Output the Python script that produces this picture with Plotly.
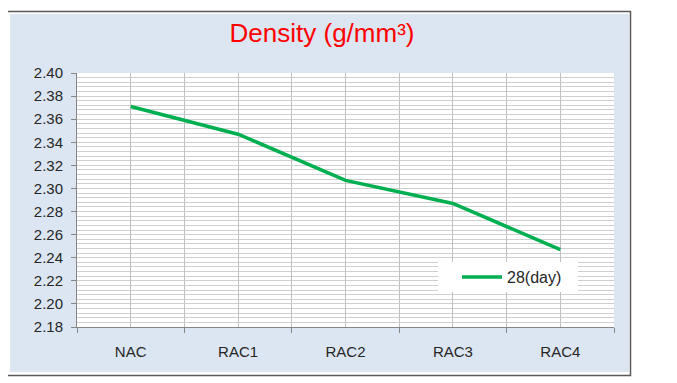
import plotly.graph_objects as go

categories = ["NAC", "RAC1", "RAC2", "RAC3", "RAC4"]
density_28day = [2.371, 2.347, 2.307, 2.287, 2.247]
series_name = "28(day)"
y_ticks = [2.18, 2.20, 2.22, 2.24, 2.26, 2.28, 2.30, 2.32, 2.34, 2.36, 2.38, 2.40]

OFF = 8  # default page body margin
W, H = 677 - OFF, 383 - OFF
# plot area in page pixels (reference coordinates)
L, R, T, B = 77, 614, 73, 327
l, r, t, b = L - OFF, R - OFF, T - OFF, B - OFF

idx = list(range(len(categories)))
bounds = [i - 0.5 for i in range(len(categories) + 1)]

fig = go.Figure()
fig.add_trace(go.Scatter(
    x=idx, y=density_28day, mode="lines", name=series_name,
    line=dict(color="#00b050", width=3.5),
))


def px(pxv):
    return (pxv - L) / (R - L)


def py(pyv):
    return (B - pyv) / (B - T)


font_main = "Liberation Sans"

fig.update_layout(
    width=W, height=H,
    margin=dict(l=l, r=W - r, t=t, b=H - b),
    paper_bgcolor="white",
    plot_bgcolor="white",
    showlegend=True,
    title=dict(
        text="Density (g/mm³)",
        font=dict(family=font_main, size=26, color="#ff0000"),
        x=(322 - OFF) / W, xref="container", xanchor="center",
        y=1 - (33 - OFF) / H, yref="container", yanchor="middle",
    ),
    legend=dict(
        x=px(457), y=py(260), xanchor="left", yanchor="top",
        bgcolor="rgba(0,0,0,0)", borderwidth=0,
        font=dict(family=font_main, size=16, color="#262626"),
        itemwidth=40,
    ),
    xaxis=dict(
        range=[-0.5, len(categories) - 0.5],
        tickmode="array", tickvals=bounds, ticktext=[""] * len(bounds),
        ticks="outside", ticklen=5, tickcolor="#868686", tickwidth=1,
        showline=True, linecolor="#868686", linewidth=1,
        showgrid=True, gridcolor="#c0c0c0", gridwidth=1,
        zeroline=False, fixedrange=True,
    ),
    xaxis2=dict(
        overlaying="x", matches="x", side="bottom",
        tickmode="array", tickvals=idx, ticktext=categories,
        ticks="outside", ticklen=11, tickcolor="rgba(0,0,0,0)",
        showline=False, showgrid=True, gridcolor="#c0c0c0", gridwidth=1,
        tickfont=dict(family=font_main, size=15, color="#262626"),
        zeroline=False,
    ),
    yaxis=dict(
        range=[2.18, 2.40],
        tickmode="array", tickvals=y_ticks, ticktext=[f"{v:.2f}" for v in y_ticks],
        ticks="outside", ticklen=5, tickcolor="#868686",
        showline=True, linecolor="#868686", linewidth=1,
        showgrid=True, gridcolor="#cfcfcf", gridwidth=1,
        minor=dict(dtick=0.004, tick0=2.18, showgrid=True, gridcolor="#cfcfcf", gridwidth=1, ticks=""),
        tickfont=dict(family=font_main, size=15, color="#262626"),
        ticklabelstandoff=5,
        zeroline=False,
    ),
    shapes=[
        dict(type="rect", xref="paper", yref="paper",
             x0=px(10), x1=px(629), y0=py(372), y1=py(14),
             fillcolor="#dce6f2", line=dict(width=0), layer="below"),
        dict(type="rect", xref="paper", yref="paper",
             x0=0, x1=1, y0=0, y1=1,
             fillcolor="white", line=dict(width=0), layer="below"),
        dict(type="rect", xref="paper", yref="paper",
             x0=px(5.5), x1=px(630.5), y0=py(375.5), y1=py(11.5),
             fillcolor="rgba(0,0,0,0)", line=dict(color="#595959", width=1.5), layer="below"),
        dict(type="rect", xref="paper", yref="paper",
             x0=px(438), x1=px(578), y0=py(292), y1=py(262),
             fillcolor="white", line=dict(width=0), layer="above"),
    ],
)
# helper trace so the second (label) axis renders its labels and centre gridlines
fig.add_trace(go.Scatter(x=idx, y=[None] * len(idx), xaxis="x2", showlegend=False, hoverinfo="skip"))

fig.write_html("out.html")
